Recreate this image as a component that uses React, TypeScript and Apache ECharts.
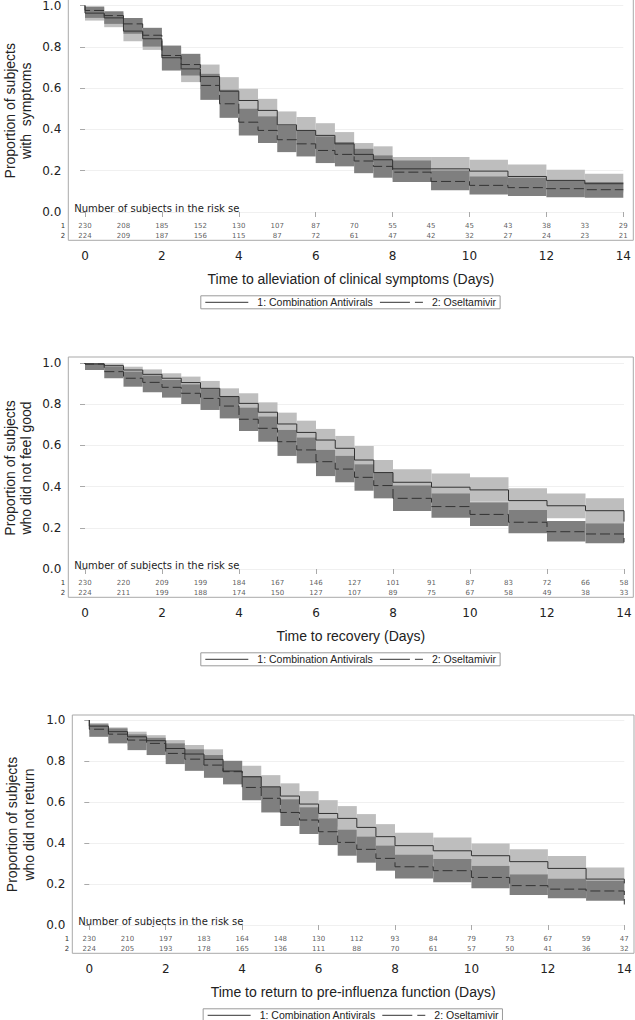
import React, { useEffect, useRef } from "react";
import * as echarts from "echarts";

// ---------- DATA ----------
const STEP_TIMES = [0, 0.5, 1, 1.5, 2, 2.5, 3, 3.5, 4, 4.5, 5, 5.5, 6, 6.5, 7, 7.5, 8, 9, 10, 11, 12, 13];
const END_TIME = 14;
const RISK_DAYS = [0, 1, 2, 3, 4, 5, 6, 7, 8, 9, 10, 11, 12, 13, 14];
const X_TICKS_INTERVAL = 2;

const NAME_COMB = "1: Combination Antivirals";
const NAME_OSEL = "2: Oseltamivir";

// Panel 1: alleviation of clinical symptoms
const p1CombEst = [0.963, 0.940, 0.876, 0.839, 0.747, 0.693, 0.656, 0.585, 0.540, 0.492, 0.422, 0.395, 0.371, 0.330, 0.279, 0.253, 0.209, 0.209, 0.198, 0.172, 0.153, 0.137];
const p1CombLo = [0.927, 0.895, 0.827, 0.785, 0.690, 0.629, 0.595, 0.520, 0.475, 0.430, 0.360, 0.335, 0.310, 0.272, 0.225, 0.200, 0.160, 0.160, 0.150, 0.125, 0.108, 0.095];
const p1CombHi = [0.989, 0.965, 0.915, 0.880, 0.797, 0.750, 0.714, 0.653, 0.597, 0.548, 0.487, 0.460, 0.430, 0.387, 0.334, 0.318, 0.266, 0.266, 0.253, 0.230, 0.205, 0.185];
const p1CombEnd = 0.137;
const p1OselEst = [0.976, 0.951, 0.911, 0.856, 0.758, 0.714, 0.613, 0.524, 0.435, 0.395, 0.350, 0.330, 0.298, 0.279, 0.247, 0.221, 0.193, 0.148, 0.129, 0.118, 0.113, 0.108];
const p1OselLo = [0.940, 0.911, 0.863, 0.801, 0.685, 0.661, 0.543, 0.456, 0.371, 0.334, 0.290, 0.269, 0.237, 0.221, 0.188, 0.166, 0.145, 0.105, 0.085, 0.077, 0.072, 0.069];
const p1OselHi = [0.995, 0.972, 0.940, 0.892, 0.806, 0.766, 0.669, 0.592, 0.500, 0.463, 0.419, 0.395, 0.366, 0.339, 0.306, 0.274, 0.250, 0.201, 0.172, 0.166, 0.153, 0.145];
const p1OselEnd = 0.108;
const p1RiskComb = [230, 208, 185, 152, 130, 107, 87, 70, 55, 45, 45, 43, 38, 33, 29];
const p1RiskOsel = [224, 209, 187, 156, 115, 87, 72, 61, 47, 42, 32, 27, 24, 23, 21];

// Panel 2: recovery
const p2CombEst = [0.995, 0.987, 0.966, 0.945, 0.926, 0.905, 0.877, 0.837, 0.804, 0.761, 0.704, 0.663, 0.626, 0.586, 0.529, 0.468, 0.421, 0.397, 0.384, 0.332, 0.307, 0.283];
const p2CombLo = [0.975, 0.960, 0.935, 0.910, 0.890, 0.865, 0.835, 0.790, 0.750, 0.705, 0.645, 0.600, 0.565, 0.525, 0.465, 0.405, 0.360, 0.335, 0.327, 0.286, 0.246, 0.222];
const p2CombHi = [1.000, 0.998, 0.982, 0.969, 0.950, 0.934, 0.913, 0.877, 0.853, 0.809, 0.759, 0.720, 0.680, 0.646, 0.597, 0.529, 0.484, 0.464, 0.445, 0.392, 0.367, 0.343];
const p2CombEnd = 0.23;
const p2OselEst = [0.995, 0.958, 0.926, 0.906, 0.882, 0.853, 0.828, 0.791, 0.727, 0.683, 0.618, 0.578, 0.521, 0.485, 0.445, 0.405, 0.343, 0.303, 0.265, 0.227, 0.181, 0.170];
const p2OselLo = [0.966, 0.926, 0.885, 0.858, 0.832, 0.801, 0.772, 0.731, 0.670, 0.618, 0.549, 0.513, 0.451, 0.421, 0.380, 0.343, 0.282, 0.249, 0.209, 0.173, 0.133, 0.125];
const p2OselHi = [1.000, 0.982, 0.958, 0.939, 0.918, 0.896, 0.874, 0.840, 0.783, 0.740, 0.675, 0.638, 0.578, 0.549, 0.508, 0.470, 0.405, 0.367, 0.324, 0.286, 0.233, 0.222];
const p2OselEnd = 0.13;
const p2RiskComb = [230, 220, 209, 199, 184, 167, 146, 127, 101, 91, 87, 83, 72, 66, 58];
const p2RiskOsel = [224, 211, 199, 188, 174, 150, 127, 107, 89, 75, 67, 58, 49, 38, 33];

// Panel 3: return to pre-influenza function
const p3CombEst = [0.970, 0.943, 0.918, 0.899, 0.861, 0.834, 0.808, 0.751, 0.723, 0.674, 0.629, 0.590, 0.544, 0.520, 0.476, 0.431, 0.387, 0.362, 0.338, 0.309, 0.276, 0.224];
const p3CombLo = [0.935, 0.900, 0.875, 0.855, 0.810, 0.785, 0.755, 0.695, 0.665, 0.615, 0.565, 0.525, 0.480, 0.466, 0.420, 0.375, 0.344, 0.305, 0.289, 0.248, 0.227, 0.170];
const p3CombHi = [0.985, 0.964, 0.943, 0.926, 0.902, 0.878, 0.857, 0.800, 0.777, 0.731, 0.691, 0.653, 0.609, 0.580, 0.541, 0.492, 0.450, 0.427, 0.398, 0.369, 0.336, 0.281];
const p3CombEnd = 0.203;
const p3OselEst = [0.955, 0.931, 0.902, 0.886, 0.837, 0.809, 0.780, 0.748, 0.671, 0.618, 0.549, 0.512, 0.455, 0.403, 0.369, 0.325, 0.284, 0.265, 0.232, 0.192, 0.175, 0.166];
const p3OselLo = [0.918, 0.886, 0.853, 0.829, 0.785, 0.752, 0.718, 0.686, 0.609, 0.549, 0.483, 0.444, 0.390, 0.338, 0.304, 0.265, 0.227, 0.208, 0.179, 0.146, 0.130, 0.118];
const p3OselHi = [0.979, 0.959, 0.930, 0.913, 0.886, 0.857, 0.829, 0.801, 0.727, 0.674, 0.613, 0.574, 0.520, 0.466, 0.431, 0.387, 0.344, 0.322, 0.289, 0.248, 0.227, 0.216];
const p3OselEnd = 0.10;
const p3RiskComb = [230, 210, 197, 183, 164, 148, 130, 112, 93, 84, 79, 73, 67, 59, 47];
const p3RiskOsel = [224, 205, 193, 178, 165, 136, 111, 88, 70, 61, 57, 50, 41, 36, 32];

const P1_XTITLE = "Time to alleviation of clinical symptoms (Days)";
const P2_XTITLE = "Time to recovery (Days)";
const P3_XTITLE = "Time to return to pre-influenza function (Days)";
const P1_YTITLE = ["Proportion of subjects", "with  symptoms"];
const P2_YTITLE = ["Proportion of subjects", "who did not feel good"];
const P3_YTITLE = ["Proportion of subjects", "who did not return"];
const RISK_TITLE = "Number of subjects in the risk se";

// ---------- LAYOUT / STYLE ----------
const W = 635;
const H = 1020;
const LAYOUT = [
  { frameL: 68.3, frameR: 633.3, frameT: -1, day0: 85, day14: 623.3, y1: 5.5, y0: 212, ytx: [10, 26] },
  { frameL: 68.3, frameR: 633.3, frameT: 357, day0: 85, day14: 624, y1: 363, y0: 569, ytx: [10, 26] },
  { frameL: 72.3, frameR: 634, frameT: 715, day0: 89.3, day14: 624.3, y1: 720, y0: 925, ytx: [12, 28.5] },
];
const LIGHT = "#bebebe";
const DARK = "#7f7f7f";
const LINE_COLOR = "#333333";
const FRAME = "#a9a9a9";
const TEXT = "#222222";

function App() {
  const ref = useRef<HTMLDivElement>(null);

  useEffect(() => {
    if (!ref.current) return;
    const chart = echarts.init(ref.current, null, { renderer: "svg" });

    const panels = [
      { est: [p1CombEst, p1OselEst], lo: [p1CombLo, p1OselLo], hi: [p1CombHi, p1OselHi], end: [p1CombEnd, p1OselEnd], risk: [p1RiskComb, p1RiskOsel], xt: P1_XTITLE, yt: P1_YTITLE },
      { est: [p2CombEst, p2OselEst], lo: [p2CombLo, p2OselLo], hi: [p2CombHi, p2OselHi], end: [p2CombEnd, p2OselEnd], risk: [p2RiskComb, p2RiskOsel], xt: P2_XTITLE, yt: P2_YTITLE },
      { est: [p3CombEst, p3OselEst], lo: [p3CombLo, p3OselLo], hi: [p3CombHi, p3OselHi], end: [p3CombEnd, p3OselEnd], risk: [p3RiskComb, p3RiskOsel], xt: P3_XTITLE, yt: P3_YTITLE },
    ];

    const grids: any[] = [];
    const xAxes: any[] = [];
    const yAxes: any[] = [];
    const series: any[] = [];
    const graphics: any[] = [];
    const legends: any[] = [];

    panels.forEach((p, i) => {
      const L = LAYOUT[i];
      const unit = L.y0 - L.y1;
      const frameB = L.y0 + 28.3;
      grids.push({
        left: L.day0, right: W - L.day14, top: L.y1, height: unit,
        containLabel: false, outerBoundsMode: "none",
      });
      xAxes.push({
        gridIndex: i, type: "value", min: 0, max: END_TIME, interval: X_TICKS_INTERVAL,
        offset: frameB - L.y0,
        axisLine: { show: false },
        axisTick: { show: true, length: 5, lineStyle: { color: FRAME } },
        axisLabel: { fontSize: 12, fontFamily: "DejaVu Sans", color: TEXT, margin: 10 },
        splitLine: { show: false },
      });
      yAxes.push({
        gridIndex: i, type: "value", min: 0, max: 1, interval: 0.2,
        offset: L.day0 - L.frameL,
        axisLine: { show: false },
        axisTick: { show: true, length: 5, lineStyle: { color: FRAME } },
        axisLabel: {
          fontSize: 12, lineHeight: 11, fontFamily: "DejaVu Sans", color: TEXT, margin: 7,
          formatter: (v: number) => v.toFixed(1),
        },
        splitLine: { show: true, lineStyle: { color: "#f0f0f0", width: 1 } },
      });

      // CI bands
      [0, 1].forEach((g) => {
        const bandData = STEP_TIMES.map((t, k) => [t, k + 1 < STEP_TIMES.length ? STEP_TIMES[k + 1] : END_TIME, p.lo[g][k], p.hi[g][k]]);
        const fill = g === 0 ? LIGHT : DARK;
        series.push({
          type: "custom", xAxisIndex: i, yAxisIndex: i, silent: true,
          encode: { x: [0, 1], y: [2, 3] },
          data: bandData,
          renderItem: (params: any, api: any) => {
            const a = api.coord([api.value(0), api.value(3)]);
            const b = api.coord([api.value(1), api.value(2)]);
            return {
              type: "rect",
              shape: { x: a[0], y: a[1], width: b[0] - a[0], height: b[1] - a[1] },
              style: { fill, stroke: null },
            };
          },
        });
      });

      // Step lines
      [0, 1].forEach((g) => {
        const data: number[][] = [[0, 1]];
        STEP_TIMES.forEach((t, k) => data.push([t, p.est[g][k]]));
        data.push([END_TIME, p.end[g]]);
        series.push({
          type: "line", name: g === 0 ? NAME_COMB : NAME_OSEL,
          xAxisIndex: i, yAxisIndex: i, step: "end", symbol: "none", showSymbol: false, silent: true,
          data,
          lineStyle: { color: LINE_COLOR, width: 1, type: g === 0 ? "solid" : [10, 4] },
          itemStyle: { color: LINE_COLOR },
        });
      });

      // Risk table numbers
      [0, 1].forEach((g) => {
        const rowOffset = g === 0 ? 14 : 23.5;
        const rowVal = -rowOffset / unit;
        series.push({
          type: "scatter", xAxisIndex: i, yAxisIndex: i, silent: true, clip: false,
          symbolSize: 1, itemStyle: { color: "rgba(0,0,0,0)" },
          data: RISK_DAYS.map((d, k) => [d, rowVal, p.risk[g][k]]),
          label: {
            show: true, position: "inside", fontSize: 7, fontFamily: "DejaVu Sans", color: "#333",
            formatter: (q: any) => String(q.value[2]),
          },
        });
        graphics.push({
          type: "text", x: L.frameL - 3, y: L.y0 + rowOffset, silent: true,
          style: { text: String(g + 1), align: "right", verticalAlign: "middle", fontSize: 7, fontFamily: "DejaVu Sans", fill: "#333" },
        });
      });

      // Frame
      graphics.push({
        type: "rect", silent: true, z: 0,
        shape: { x: L.frameL, y: L.frameT, width: L.frameR - L.frameL, height: frameB - L.frameT },
        style: { fill: null, stroke: FRAME, lineWidth: 1 },
      });
      // Risk title
      graphics.push({
        type: "text", x: L.frameL + 6, y: L.y0 - 4, silent: true,
        style: { text: RISK_TITLE, align: "left", verticalAlign: "middle", fontSize: 10, fontFamily: "DejaVu Sans", fill: TEXT },
      });
      // Y title (two rotated lines)
      const cy = (L.y0 + L.y1) / 2 + 2;
      p.yt.forEach((line, k) => {
        graphics.push({
          type: "text", x: L.ytx[k], y: cy, rotation: Math.PI / 2, silent: true,
          style: { text: line, align: "center", verticalAlign: "middle", fontSize: 14, fontFamily: "Liberation Sans", fill: TEXT },
        });
      });
      // X title
      const cx = (L.frameL + L.frameR) / 2;
      graphics.push({
        type: "text", x: cx, y: L.y0 + 66.7, silent: true,
        style: { text: p.xt, align: "center", verticalAlign: "middle", fontSize: 14, fontFamily: "Liberation Sans", fill: TEXT },
      });
      // Legend
      legends.push({
        show: true, orient: "horizontal",
        left: cx - 150, top: L.y0 + 89.3 - 5.5,
        data: [{ name: NAME_COMB }, { name: NAME_OSEL, lineStyle: { type: [30, 5], width: 1 } }],
        itemWidth: 43, itemHeight: 8, itemGap: 6,
        padding: [1, 4, 1, 4],
        borderColor: "#9a9a9a", borderWidth: 1, borderRadius: 0,
        selectedMode: false,
        itemStyle: { opacity: 0 },
        lineStyle: { width: 1 },
        textStyle: { fontSize: 10.5, fontFamily: "Liberation Sans", color: TEXT, padding: [0, 0, 0, 4] },
      });
    });

    chart.setOption({
      animation: false,
      backgroundColor: "#ffffff",
      grid: grids,
      xAxis: xAxes,
      yAxis: yAxes,
      legend: legends,
      series,
      graphic: graphics,
    });

    return () => chart.dispose();
  }, []);

  return <div ref={ref} style={{ position: "absolute", left: 0, top: 0, width: W, height: H, background: "#fff" }} />;
}

export default App;
